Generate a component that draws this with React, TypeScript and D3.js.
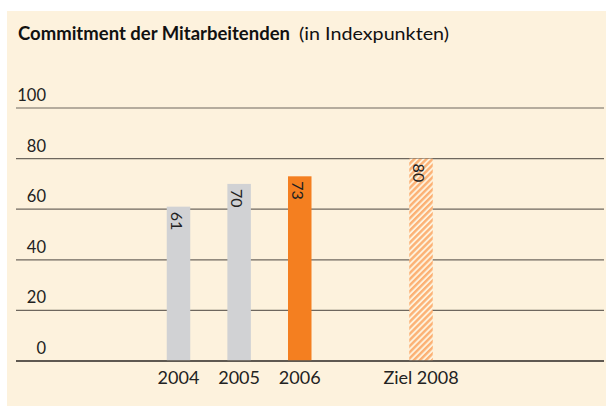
import React from "react";
import * as d3 from "d3";

const categories = ["2004", "2005", "2006", "", "Ziel 2008"];
const values = [61, 70, 73, null, 80];
const barKinds = ["past", "past", "current", null, "target"];
const yTicks = [0, 20, 40, 60, 80, 100];
const titleBold = "Commitment der Mitarbeitenden";
const titleNormal = "(in Indexpunkten)";

const W = 606;
const H = 406;

export default function App() {
  const y = d3.scaleLinear().domain([0, 100]).range([361, 108]);
  const keys = categories.map((c, i) => c || "gap" + i);
  const x = d3.scalePoint<string>().domain(keys).range([178.5, 421]);
  const barW = 23.5;
  const fill = (k: string | null) =>
    k === "past" ? "#d1d2d4" : k === "current" ? "#f47f20" : "url(#hatch)";
  const font = "Lato, 'Open Sans', sans-serif";

  return (
    <svg width={W} height={H} style={{ position: "absolute", left: 0, top: 0 }}>
      <defs>
        <pattern id="hatch" width="4.3" height="4.3" patternUnits="userSpaceOnUse" patternTransform="rotate(45)">
          <rect width="4.3" height="4.3" fill="#fdf2dd" />
          <rect width="2.4" height="4.3" fill="#fcb174" />
        </pattern>
      </defs>
      <rect x={7} y={11} width={W - 7} height={H - 11} fill="#fdf2dd" />
      <text y={40} fontFamily={font} fontSize={18.5} fill="#111">
        <tspan x={18} fontWeight={700} textLength={272} lengthAdjust="spacingAndGlyphs">{titleBold}</tspan>
        <tspan x={299} fontWeight={400} fontSize={18} textLength={150} lengthAdjust="spacingAndGlyphs">{titleNormal}</tspan>
      </text>
      {yTicks.map((t) => (
        <g key={t}>
          <line x1={16} x2={604} y1={y(t)} y2={y(t)}
            stroke={t === 0 ? "#2a2622" : "#6e675e"} strokeWidth={t === 0 ? 1.6 : 1.2} />
          <text x={46} y={y(t) - 7} textAnchor="end" fontFamily={font} fontSize={16.5} fill="#222">{t}</text>
        </g>
      ))}
      {keys.map((k, i) => {
        const v = values[i];
        if (v == null) return null;
        const cx = x(k)!;
        return (
          <g key={k}>
            <rect x={cx - barW / 2} y={y(v)} width={barW} height={y(0) - y(v) - 0.8} fill={fill(barKinds[i])} />
            <text transform={`translate(${cx - 8},${y(v) + 5}) rotate(90)`} fontFamily={font} fontSize={16}
              fill="#222">{v}</text>
          </g>
        );
      })}
      {keys.map((k, i) => (
        categories[i] ? (
          <text key={"l" + k} x={x(k)!} y={384} textAnchor="middle" fontFamily={font} fontSize={18} fill="#222">
            {categories[i]}
          </text>
        ) : null
      ))}
    </svg>
  );
}
